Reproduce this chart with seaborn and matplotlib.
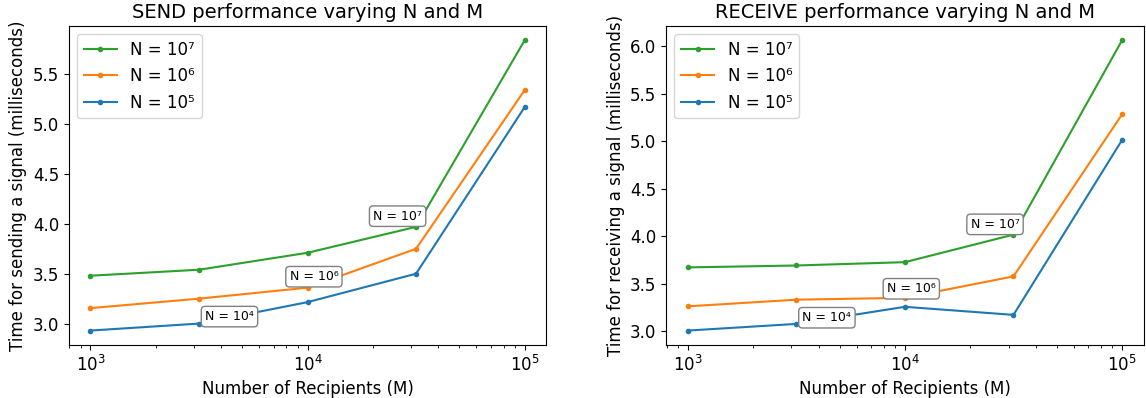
import numpy as np
import pandas as pd
import matplotlib
matplotlib.use("Agg")
import matplotlib.pyplot as plt
import seaborn as sns

# number of recipients (M)
recipients = [1000, 3162, 10000, 31623, 100000]

# SEND timings (ms)
send_n7 = [3.48, 3.54, 3.71, 3.97, 5.84]
send_n6 = [3.155, 3.25, 3.36, 3.75, 5.34]
send_n5 = [2.93, 3.00, 3.215, 3.50, 5.17]

# RECEIVE timings (ms)
recv_n7 = [3.67, 3.69, 3.725, 4.015, 6.06]
recv_n6 = [3.26, 3.33, 3.35, 3.575, 5.28]
recv_n5 = [3.005, 3.075, 3.255, 3.17, 5.01]

labels = ["N = 10\u2077", "N = 10\u2076", "N = 10\u2075"]
colors = ["#2ca02c", "#ff7f0e", "#1f77b4"]

# annotation text and positions (x, y in data coords)
note_text = ["N = 10\u2077", "N = 10\u2076", "N = 10\u2074"]
note_x = [26000, 10700, 4370]
send_note_y = [4.077, 3.47, 3.07]
recv_note_y = [4.123, 3.445, 3.14]


def make_df(series):
    frames = []
    for lab, vals in zip(labels, series):
        frames.append(pd.DataFrame({"M": recipients, "time": vals, "N": lab}))
    return pd.concat(frames, ignore_index=True)


send_df = make_df([send_n7, send_n6, send_n5])
recv_df = make_df([recv_n7, recv_n6, recv_n5])

fig, axs = plt.subplots(1, 2, figsize=(11.46, 3.98), dpi=100)
plt.subplots_adjust(left=0.060, right=0.998, top=0.935, bottom=0.133, wspace=0.251)

palette = dict(zip(labels, colors))

panels = [
    (axs[0], send_df, "SEND performance varying N and M", "Time for sending a signal (milliseconds)", send_note_y),
    (axs[1], recv_df, "RECEIVE performance varying N and M", "Time for receiving a signal (milliseconds)", recv_note_y),
]

for ax, df, title, ylabel, note_y in panels:
    sns.lineplot(data=df, x="M", y="time", hue="N", hue_order=labels, palette=palette,
                 marker="o", markersize=4, markeredgewidth=0, linewidth=1.5, ax=ax)
    ax.set_xscale("log")
    ax.set_title(title, fontsize=14)
    ax.set_xlabel("Number of Recipients (M)", fontsize=12)
    ax.set_ylabel(ylabel, fontsize=12)
    ax.tick_params(axis="both", labelsize=12)
    ax.legend(loc="upper left", fontsize=12, title=None)
    for txt, nx, ny in zip(note_text, note_x, note_y):
        ax.text(nx, ny, txt, ha="center", va="center", fontsize=9,
                bbox=dict(boxstyle="round", facecolor="white", edgecolor="gray"))

fig.savefig("out.png", dpi=100)
